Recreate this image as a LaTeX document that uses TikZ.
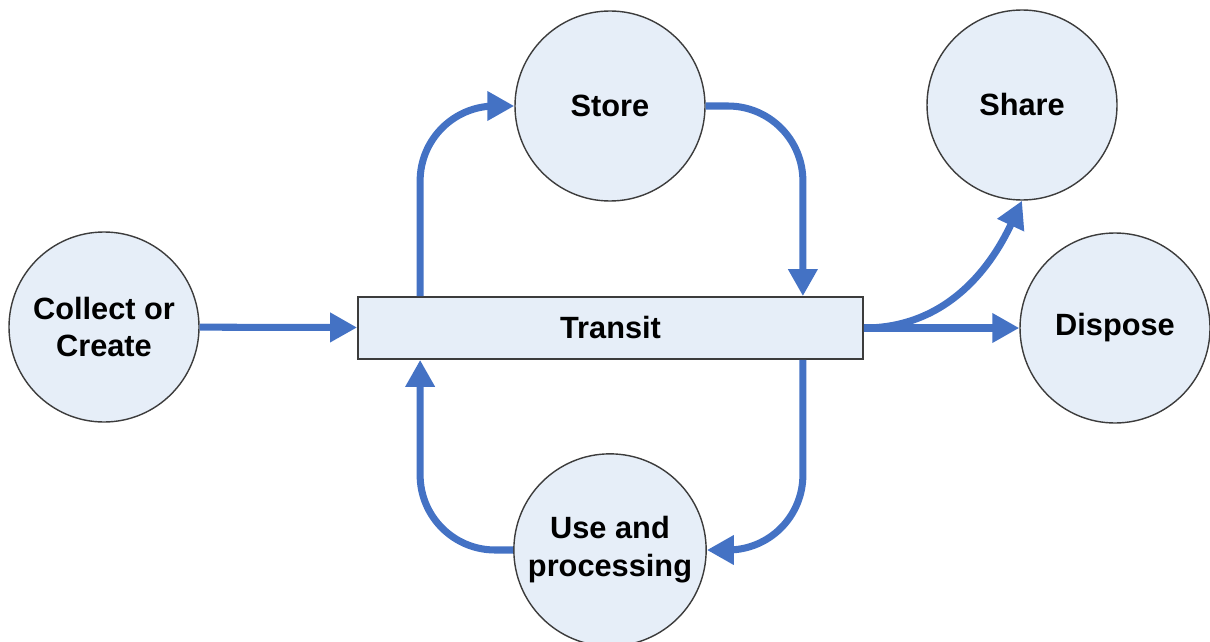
\documentclass[tikz,border=0pt]{standalone}
\usepackage{fontspec}
\setmainfont{Liberation Sans}
\usepackage{tikz}
\usetikzlibrary{positioning,arrows.meta,calc}
\definecolor{stagefill}{HTML}{E6EEF8}
\definecolor{stageline}{HTML}{3C3C3C}
\definecolor{flowblue}{HTML}{4472C4}
\tikzset{
    stage/.style = {
        draw=stageline,
        fill=stagefill,
        shape=circle,
        minimum size=3.8cm,
        line width=0.8pt,
        align=center,
        font=\fontsize{17.5}{21.5}\selectfont\bfseries
    },
    block/.style = {
        draw=stageline,
        fill=stagefill,
        shape=rectangle,
        minimum height=1.24cm,
        minimum width=10.1cm,
        line width=1pt,
        font=\fontsize{17.5}{21.5}\selectfont\bfseries
    },
    flow/.style = {
        draw,
        color=flowblue,
        line width=4pt
    },
    >={Triangle[length=0.54cm,width=0.56cm]},
}
\begin{document}
\begin{tikzpicture}
                \useasboundingbox (0,0) rectangle (24.2,-12.82);
                \node[stage] (collect) at (2.08,-6.54) {Collect or\\Create};
                \node[block] (transit) at (12.21,-6.56) {Transit};
                \node[stage] (store) at (12.2,-2.12) {Store};
                \node[stage] (use) at (12.2,-11.0) {Use and\\processing};
                \node[stage] (share) at (20.44,-2.1) {Share};
                \node[stage] (dispose) at (22.3,-6.56) {Dispose};

                \coordinate (tupl) at ([xshift=1.26cm]transit.north west);
                \coordinate (tupr) at ([xshift=-1.22cm]transit.north east);
                \coordinate (tdnl) at ([xshift=1.26cm]transit.south west);
                \coordinate (tdnr) at ([xshift=-1.22cm]transit.south east);

                \path[flow, ->] (collect) -- (transit);
                \path[flow, ->, rounded corners=1.5cm] (tupl) |- (store.west);
                \path[flow, ->, rounded corners=1.5cm] (store.east) -| (tupr);
                \path[flow, ->, rounded corners=1.5cm] (tdnr) |- (use.east);
                \path[flow, ->, rounded corners=1.5cm] (use.west) -| (tdnl);
                \path[flow, ->] (transit.east) -- (dispose);
                \path[flow, ->] (transit.east) to[out=0, in=-115] (share.south);
            \end{tikzpicture}
\end{document}
